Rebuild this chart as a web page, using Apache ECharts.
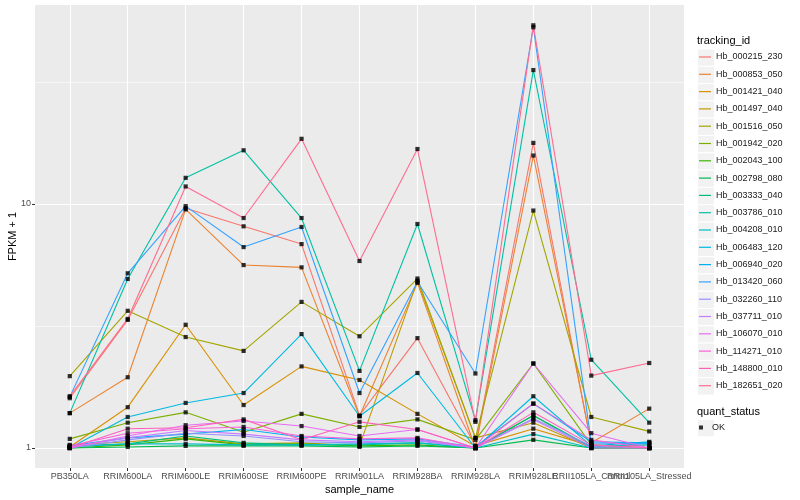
<!DOCTYPE html>
<html>
<head>
<meta charset="utf-8">
<script src="https://cdn.jsdelivr.net/npm/echarts@6/dist/echarts.min.js"></script>
<style>html,body{margin:0;padding:0;background:#fff;}#c{width:800px;height:500px;}</style>
</head>
<body>
<div id="c"></div>
<script>
const categories = ['PB350LA','RRIM600LA','RRIM600LE','RRIM600SE','RRIM600PE','RRIM901LA','RRIM928BA','RRIM928LA','RRIM928LE','RRII105LA_Control','RRII105LA_Stressed'];
const trackingIds = ['Hb_000215_230','Hb_000853_050','Hb_001421_040','Hb_001497_040','Hb_001516_050','Hb_001942_020','Hb_002043_100','Hb_002798_080','Hb_003333_040','Hb_003786_010','Hb_004208_010','Hb_006483_120','Hb_006940_020','Hb_013420_060','Hb_032260_110','Hb_037711_010','Hb_106070_010','Hb_114271_010','Hb_148800_010','Hb_182651_020'];
const seriesColors = ['#F8766D','#EA8331','#D89000','#C09B00','#A3A500','#7CAE00','#39B600','#00BB4E','#00BF7D','#00C1A3','#00BFC4','#00BAE0','#00B0F6','#35A2FF','#9590FF','#C77CFF','#E76BF3','#FA62DB','#FF62BC','#FF6C91'];

const Hb_000215_230 = [1.6, 3.35, 9.6, 8.1, 6.85, 1.36, 2.82, 1.02, 17.8, 1.03, 1.0];
const Hb_000853_050 = [1.39, 1.95, 9.5, 5.62, 5.5, 1.35, 4.75, 1.0, 15.8, 1.05, 1.45];
const Hb_001421_040 = [1.01, 1.47, 3.2, 1.5, 2.16, 1.9, 1.38, 1.02, 1.2, 1.02, 1.0];
const Hb_001497_040 = [1.03, 1.06, 1.1, 1.04, 1.05, 1.02, 4.85, 1.1, 1.27, 1.0, 1.0];
const Hb_001516_050 = [1.97, 3.65, 2.85, 2.5, 3.97, 2.87, 4.95, 1.1, 9.4, 1.34, 1.17];
const Hb_001942_020 = [1.09, 1.27, 1.40, 1.16, 1.38, 1.22, 1.31, 1.08, 2.22, 1.03, 1.0];
const Hb_002043_100 = [1.0, 1.03, 1.09, 1.03, 1.04, 1.02, 1.03, 1.0, 1.36, 1.0, 1.0];
const Hb_002798_080 = [1.0, 1.01, 1.02, 1.02, 1.02, 1.01, 1.02, 1.0, 1.08, 1.0, 1.0];
const Hb_003333_040 = [1.02, 1.04, 1.12, 1.05, 1.03, 1.03, 1.05, 1.0, 1.36, 1.01, 1.03];
const Hb_003786_010 = [1.39, 4.93, 12.8, 16.6, 8.76, 2.07, 8.28, 1.3, 35.4, 2.3, 1.27];
const Hb_004208_010 = [1.01, 1.04, 1.04, 1.03, 1.03, 1.04, 1.05, 1.0, 1.14, 1.0, 1.05];
const Hb_006483_120 = [1.0, 1.34, 1.53, 1.68, 2.93, 1.35, 2.03, 1.0, 1.63, 1.02, 1.06];
const Hb_006940_020 = [1.02, 1.1, 1.14, 1.19, 1.11, 1.08, 1.09, 1.01, 1.52, 1.06, 1.05];
const Hb_013420_060 = [1.62, 5.2, 9.8, 6.66, 8.05, 1.68, 4.8, 2.02, 53, 1.05, 1.04];
const Hb_032260_110 = [1.0, 1.08, 1.15, 1.12, 1.06, 1.05, 1.07, 1.0, 1.32, 1.02, 1.0];
const Hb_037711_010 = [1.01, 1.1, 1.18, 1.14, 1.08, 1.06, 1.08, 1.0, 1.31, 1.0, 1.0];
const Hb_106070_010 = [1.0, 1.12, 1.24, 1.29, 1.23, 1.12, 1.19, 1.0, 2.22, 1.15, 1.0];
const Hb_114271_010 = [1.02, 1.15, 1.2, 1.22, 1.12, 1.09, 1.1, 1.0, 1.52, 1.08, 1.0];
const Hb_148800_010 = [1.0, 1.2, 1.21, 1.31, 1.08, 1.28, 1.19, 1.0, 1.4, 1.03, 1.0];
const Hb_182651_020 = [1.63, 3.38, 11.8, 8.76, 18.5, 5.84, 16.8, 1.28, 54, 1.98, 2.23];

const yTickLabels = [1, 10];
const yMinorBreaks = [3.1623, 31.623];

const seriesValues = [Hb_000215_230, Hb_000853_050, Hb_001421_040, Hb_001497_040, Hb_001516_050, Hb_001942_020, Hb_002043_100, Hb_002798_080, Hb_003333_040, Hb_003786_010, Hb_004208_010, Hb_006483_120, Hb_006940_020, Hb_013420_060, Hb_032260_110, Hb_037711_010, Hb_106070_010, Hb_114271_010, Hb_148800_010, Hb_182651_020];

const FONT = 'Liberation Sans, Arial, Helvetica, sans-serif';
const Y_MIN = 0.828, Y_MAX = 65.4;
const LAST = categories.length - 1;

const lineSeries = trackingIds.map((id, k) => ({
  type: 'line', name: id, xAxisIndex: 1, yAxisIndex: 2,
  data: seriesValues[k].map((v, i) => [i, v]),
  showSymbol: false, symbol: 'none', clip: false,
  lineStyle: { width: 1.1, color: seriesColors[k] },
  itemStyle: { color: seriesColors[k] },
  emphasis: { disabled: true }, silent: true, z: 2
}));
const points = [];
seriesValues.forEach(arr => arr.forEach((v, i) => points.push([i, v])));
const pointSeries = {
  type: 'scatter', name: 'OK', xAxisIndex: 1, yAxisIndex: 2, data: points, symbol: 'rect', symbolSize: 4.2, clip: false,
  itemStyle: { color: '#000' }, emphasis: { disabled: true }, silent: true, z: 3
};

// legend key backgrounds (decoration)
const keyGraphics = [];
for (let i = 0; i < trackingIds.length; i++) {
  keyGraphics.push({ type: 'rect', left: 697, top: 48.5 + i * 17.3, shape: { width: 17, height: 17.3 }, style: { fill: '#F2F2F2', stroke: '#fff', lineWidth: 1 }, z: -1 });
}
keyGraphics.push({ type: 'rect', left: 697, top: 419, shape: { width: 17, height: 17.3 }, style: { fill: '#F2F2F2', stroke: '#fff', lineWidth: 1 }, z: -1 });

// panel: 35..684 wide, discrete expansion 0.6 units each side
const PANEL_L = 35, PANEL_R = 116, PANEL_W = 800 - PANEL_L - PANEL_R;
const UNIT = PANEL_W / (LAST + 1.2);

const labelStyle = { color: '#4D4D4D', fontSize: 9, margin: 4, fontFamily: FONT, hideOverlap: false };

const chart = echarts.init(document.getElementById('c'), null, { renderer: 'canvas' });
chart.setOption({
  animation: false,
  backgroundColor: '#fff',
  textStyle: { fontFamily: FONT },
  grid: [
    { left: PANEL_L, right: PANEL_R, top: 5, bottom: 32, show: true, backgroundColor: '#EBEBEB', borderWidth: 0, containLabel: false, outerBoundsMode: 'none' },
    { left: PANEL_L + 0.6 * UNIT, right: PANEL_R + 0.6 * UNIT, top: 5, bottom: 32, show: false, containLabel: false, outerBoundsMode: 'none' }
  ],
  title: [
    { text: 'tracking_id', left: 697, top: 35, padding: 0, textStyle: { fontSize: 11, fontWeight: 'normal', color: '#000', fontFamily: FONT } },
    { text: 'quant_status', left: 697, top: 406, padding: 0, textStyle: { fontSize: 11, fontWeight: 'normal', color: '#000', fontFamily: FONT } }
  ],
  graphic: keyGraphics,
  legend: [
    { data: trackingIds, orient: 'vertical', left: 699, top: 51, padding: 0, itemGap: 5.3, itemWidth: 12, itemHeight: 1.2, icon: 'rect',
      textStyle: { fontSize: 9, lineHeight: 12, color: '#1A1A1A', fontFamily: FONT }, selectedMode: false },
    { data: ['OK'], orient: 'vertical', left: 699, top: 421.5, padding: 0, itemWidth: 12, itemHeight: 4, icon: 'path://M0,0h4v4h-4z', symbolKeepAspect: true,
      textStyle: { fontSize: 9, lineHeight: 12, color: '#1A1A1A', fontFamily: FONT }, selectedMode: false }
  ],
  xAxis: [
    { type: 'value', gridIndex: 0, min: 0, max: 1, show: false, splitLine: { show: false } },
    {
      type: 'value', gridIndex: 1, min: 0, max: LAST, interval: 1, position: 'bottom',
      axisLine: { show: false },
      axisTick: { show: true, length: 3, lineStyle: { color: '#333', width: 1 } },
      axisLabel: Object.assign({ formatter: v => (Math.round(v) < LAST ? categories[Math.round(v)] : '') }, labelStyle),
      splitLine: { show: true, lineStyle: { color: '#fff', width: 1.1 } },
      name: 'sample_name', nameLocation: 'middle', nameGap: 16, nameMoveOverlap: false,
      nameTextStyle: { color: '#000', fontSize: 11, fontFamily: FONT }
    },
    {
      type: 'value', gridIndex: 1, min: 0, max: LAST, interval: 1, position: 'bottom', offset: 0,
      axisLine: { show: false }, axisTick: { show: false }, splitLine: { show: false },
      axisLabel: Object.assign({ formatter: v => (Math.round(v) === LAST ? categories[LAST] : '') }, labelStyle)
    }
  ],
  yAxis: [
    {
      type: 'log', logBase: 10, gridIndex: 0, min: Y_MIN, max: Y_MAX,
      axisLine: { show: false },
      axisTick: { show: true, length: 3, customValues: yTickLabels, lineStyle: { color: '#333', width: 1 } },
      axisLabel: { customValues: yTickLabels, color: '#4D4D4D', fontSize: 9, margin: 4, fontFamily: FONT, formatter: v => String(Math.round(v)) },
      splitLine: { show: true, lineStyle: { color: '#fff', width: 1.1 } },
      name: 'FPKM + 1', nameLocation: 'middle', nameGap: 17, nameMoveOverlap: false,
      nameTextStyle: { color: '#000', fontSize: 11, fontFamily: FONT }
    },
    {
      type: 'log', logBase: 10, gridIndex: 0, min: Y_MIN, max: Y_MAX, position: 'left',
      axisLine: { show: false },
      axisTick: { show: false, customValues: yMinorBreaks },
      axisLabel: { show: false, customValues: yMinorBreaks },
      splitLine: { show: true, lineStyle: { color: '#fff', width: 0.55 } }
    },
    {
      type: 'log', logBase: 10, gridIndex: 1, min: Y_MIN, max: Y_MAX,
      axisLine: { show: false }, axisTick: { show: false }, axisLabel: { show: false }, splitLine: { show: false }
    }
  ],
  series: lineSeries.concat([pointSeries])
});
</script>
</body>
</html>
